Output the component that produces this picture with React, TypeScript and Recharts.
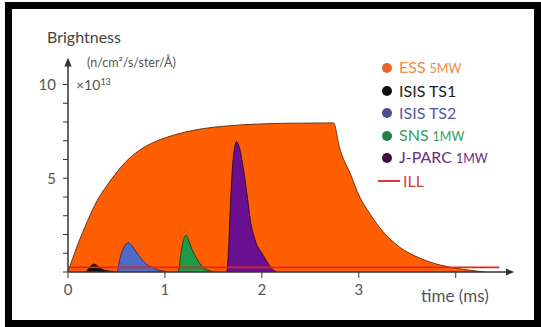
import { Area, ComposedChart, Line, XAxis, YAxis } from 'recharts'

// time in ms, brightness in units of 1e13 n/cm²/s/ster/Å
const essTime = [0, 0.1, 0.2, 0.3, 0.4, 0.5, 0.6, 0.7, 0.8, 0.9, 1.0, 1.2, 1.4, 1.6, 1.8, 2.0, 2.4, 2.74, 2.8, 2.91, 3.01, 3.11, 3.22, 3.42, 3.63, 3.84, 4.0, 4.14, 4.3]
const essValue = [0, 1.45, 2.7, 3.8, 4.6, 5.3, 5.9, 6.35, 6.7, 6.95, 7.15, 7.45, 7.65, 7.77, 7.85, 7.9, 7.94, 7.95, 6.65, 5.27, 4.0, 3.14, 2.34, 1.33, 0.74, 0.37, 0.2, 0.1, 0]

const ts1Time = [0.19, 0.23, 0.27, 0.31, 0.36, 0.45, 0.5]
const ts1Value = [0, 0.3, 0.42, 0.3, 0.12, 0.03, 0]

const ts2Time = [0.51, 0.54, 0.58, 0.62, 0.66, 0.7, 0.74, 0.78, 0.82, 0.88, 0.95, 1.02]
const ts2Value = [0, 0.8, 1.35, 1.56, 1.4, 1.1, 0.82, 0.56, 0.37, 0.2, 0.08, 0]

const snsTime = [1.14, 1.17, 1.2, 1.22, 1.25, 1.29, 1.33, 1.36, 1.4, 1.45, 1.5]
const snsValue = [0, 1.1, 1.85, 1.97, 1.6, 1.08, 0.7, 0.46, 0.22, 0.08, 0]

const jparcTime = [1.64, 1.65, 1.68, 1.7, 1.74, 1.77, 1.8, 1.85, 1.88, 1.93, 2.0, 2.06, 2.1, 2.15]
const jparcValue = [0, 0.6, 4.0, 5.8, 6.95, 6.6, 5.8, 4.0, 2.8, 1.7, 1.0, 0.5, 0.2, 0]

const illTime = [0, 4.45]
const illValue = [0.25, 0.25]

const xTicks = [0, 1, 2, 3, 4]
const xLabels = ['0', '1', '2', '3', '']
const yTicks = [0, 1, 2, 3, 4, 5, 6, 7, 8, 9, 10]
const yLabelled = [5, 10]

const legendItems = [
  { name: 'ESS', unit: '5MW', dot: '#e8642c', color: '#f08a48' },
  { name: 'ISIS TS1', unit: '', dot: '#111', color: '#222' },
  { name: 'ISIS TS2', unit: '', dot: '#4a4f96', color: '#5358a8' },
  { name: 'SNS', unit: '1MW', dot: '#2a7a4c', color: '#35a060' },
  { name: 'J-PARC', unit: '1MW', dot: '#3e0f3c', color: '#6e2a80' },
  { name: 'ILL', unit: '', dot: '', color: '#d83a3a' },
]

const zip = (t: number[], v: number[]) => t.map((x, i) => ({ t: x, v: v[i] }))

const font = 'Lato, "Open Sans", sans-serif'
const axisColor = '#333'

function Legend() {
  return (
    <div style={{ position: 'absolute', left: 378, top: 57, fontFamily: font }}>
      {legendItems.map((it) => (
        <div key={it.name} style={{ display: 'flex', alignItems: 'center', height: 22.5, whiteSpace: 'nowrap' }}>
          {it.dot ? (
            <span style={{ width: 10, height: 10, borderRadius: 5, background: it.dot, marginLeft: 4, marginRight: 7 }} />
          ) : (
            <span style={{ width: 22, height: 2, background: it.color, marginRight: 3 }} />
          )}
          <span style={{ color: it.color, fontSize: 16, lineHeight: '18px' }}>
            {it.name}
            {it.unit && <span style={{ fontSize: 12.5, marginLeft: 4 }}>{it.unit}</span>}
          </span>
        </div>
      ))}
    </div>
  )
}

export default function App() {
  return (
    <div style={{ position: 'absolute', left: 0, top: 0, width: 541, height: 327, background: '#fff', overflow: 'hidden' }}>
      <div style={{ position: 'absolute', left: 5, top: 2, width: 536, height: 325, border: '7px solid #000', boxSizing: 'border-box' }} />
      <svg width={0} height={0} style={{ position: 'absolute' }}>
        <defs>
          <marker id="arr" viewBox="0 0 10 10" refX="5" refY="5" markerWidth="9" markerHeight="9" orient="auto-start-reverse" markerUnits="userSpaceOnUse">
            <path d="M0,1 L10,5 L0,9 z" fill={axisColor} />
          </marker>
        </defs>
      </svg>
      <div style={{ position: 'absolute', left: 0, top: 0 }}>
        <ComposedChart width={541} height={327} margin={{ top: 62, right: 31, bottom: 25, left: 28 }}>
          <XAxis
            dataKey="t"
            type="number"
            domain={[0, 4.56]}
            ticks={xTicks}
            tickFormatter={(v: number) => xLabels[xTicks.indexOf(v)] ?? ''}
            height={30}
            tickSize={6}
            tickMargin={6}
            allowDataOverflow
            axisLine={{ stroke: axisColor, strokeWidth: 1.5, markerEnd: 'url(#arr)' }}
            tickLine={{ stroke: axisColor }}
            tick={{ fill: '#555', fontSize: 15, fontFamily: font }}
          />
          <YAxis
            dataKey="v"
            type="number"
            domain={[0, 11.2]}
            ticks={yTicks}
            tickFormatter={(v: number) => (yLabelled.includes(v) ? String(v) : '')}
            width={40}
            tickSize={5}
            tickMargin={7}
            allowDataOverflow
            axisLine={{ stroke: axisColor, strokeWidth: 1.5, markerStart: 'url(#arr)' }}
            tickLine={{ stroke: axisColor }}
            tick={{ fill: '#555', fontSize: 15, fontFamily: font }}
          />
          <Area data={zip(essTime, essValue)} dataKey="v" type="monotone" fill="#ff5f00" fillOpacity={1} stroke="#6b3312" strokeWidth={1} isAnimationActive={false} />
          <Area data={zip(ts1Time, ts1Value)} dataKey="v" type="monotone" fill="#111" fillOpacity={1} stroke="#111" strokeWidth={1} isAnimationActive={false} />
          <Area data={zip(ts2Time, ts2Value)} dataKey="v" type="monotone" fill="#4f6bc6" fillOpacity={1} stroke="#3b2a6a" strokeWidth={1} isAnimationActive={false} />
          <Area data={zip(snsTime, snsValue)} dataKey="v" type="monotone" fill="#1f9a4a" fillOpacity={1} stroke="#0c4a22" strokeWidth={1} isAnimationActive={false} />
          <Area data={zip(jparcTime, jparcValue)} dataKey="v" type="monotone" fill="#6a0f90" fillOpacity={1} stroke="#2e0840" strokeWidth={1} isAnimationActive={false} />
          <Line data={zip(illTime, illValue)} dataKey="v" type="linear" stroke="#e3261c" strokeWidth={1.8} dot={false} isAnimationActive={false} />
        </ComposedChart>
      </div>
      <div style={{ position: 'absolute', left: 47, top: 27, fontSize: 16, color: '#444', fontFamily: font }}>Brightness</div>
      <div style={{ position: 'absolute', left: 87, top: 55, fontSize: 12.5, color: '#555', fontFamily: font, whiteSpace: 'nowrap' }}>(n/cm²/s/ster/Å)</div>
      <div style={{ position: 'absolute', left: 76, top: 76, fontSize: 14, color: '#555', fontFamily: font, whiteSpace: 'nowrap' }}>
        ×10<span style={{ fontSize: 9, verticalAlign: 5 }}>13</span>
      </div>
      <div style={{ position: 'absolute', left: 421, top: 285, fontSize: 17, color: '#555', fontFamily: font, whiteSpace: 'nowrap' }}>time (ms)</div>
      <Legend />
    </div>
  )
}
